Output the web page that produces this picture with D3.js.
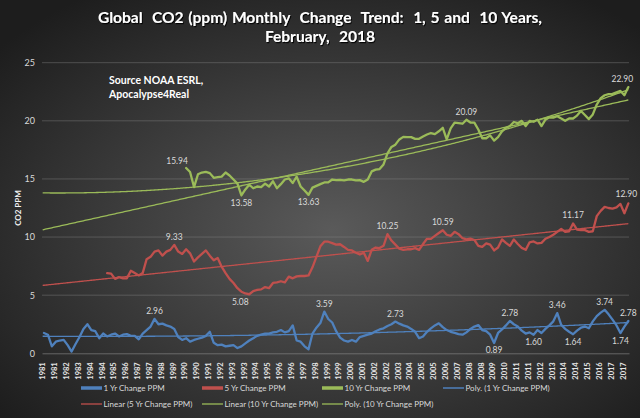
<!DOCTYPE html>
<html>
<head>
<meta charset="utf-8">
<script src="https://cdn.jsdelivr.net/npm/d3@7"></script>
<style>
    body { margin: 0; background: #000; }
    svg text { font-family: Lato, "Open Sans", sans-serif; }
</style>
</head>
<body>
<svg id="chart" width="640" height="418"></svg>
<script>
// Global CO2 monthly change, 1, 5 and 10 year windows (NOAA ESRL)
// values, one reading per quarter

const nMonths = 446;        // Jan 1981 .. Feb 2018
const sampleStep = 3;       // months between readings
const tickStep = 9;         // Excel category label interval

const tickLabels = ["1981", "1981", "1982", "1983", "1984", "1984", "1985", "1986", "1987", "1987",
    "1988", "1989", "1990", "1990", "1991", "1992", "1993", "1993", "1994", "1995",
    "1996", "1996", "1997", "1998", "1999", "1999", "2000", "2001", "2002", "2002",
    "2003", "2004", "2005", "2005", "2006", "2007", "2008", "2008", "2009", "2010",
    "2011", "2011", "2012", "2013", "2014", "2014", "2015", "2016", "2017", "2017"];
const yTicks = [0, 5, 10, 15, 20, 25];

// first month index (0 = Jan 1981) of each series
const oneYrStart = 1, fiveYrStart = 49, tenYrStart = 109;

const oneYr = [1.75, 1.6, 0.6, 1.0, 1.1, 1.15, 0.7, 0.15, 0.8, 1.4,
    2.1, 2.5, 2.0, 1.9, 1.3, 1.7, 1.45, 1.6, 1.7, 1.45,
    1.6, 1.65, 1.5, 1.5, 1.2, 1.7, 2.0, 2.3, 2.96, 2.5,
    2.55, 2.4, 2.3, 2.1, 1.4, 1.15, 1.3, 1.0, 1.15, 1.25,
    1.35, 1.5, 1.85, 0.9, 0.7, 0.75, 0.6, 0.65, 0.7, 0.45,
    0.6, 0.85, 1.1, 1.3, 1.5, 1.6, 1.7, 1.7, 1.8, 1.85,
    2.0, 1.8, 1.9, 2.4, 1.1, 1.0, 0.6, 0.35, 1.7, 2.2,
    2.6, 3.59, 2.95, 2.65, 1.9, 1.35, 1.1, 1.0, 1.15, 1.0,
    1.4, 1.5, 1.6, 1.7, 1.9, 2.05, 2.15, 2.35, 2.5, 2.73,
    2.55, 2.4, 2.3, 2.1, 1.85, 1.3, 1.45, 1.85, 2.15, 2.4,
    2.58, 2.25, 2.0, 1.85, 1.75, 1.65, 1.6, 1.8, 2.1, 2.3,
    2.43, 2.0, 1.9, 1.6, 0.89, 1.75, 2.05, 2.4, 2.78, 2.5,
    2.3, 1.95, 1.7, 1.8, 1.6, 2.0, 1.75, 2.1, 2.4, 2.75,
    3.46, 2.45, 2.1, 1.85, 1.64, 1.95, 2.2, 2.3, 2.15, 2.75,
    3.2, 3.5, 3.74, 3.35, 2.9, 2.4, 1.74, 2.3, 2.78];

const fiveYr = [6.9, 6.85, 6.4, 6.55, 6.45, 6.45, 7.1, 6.9, 6.7, 6.9,
    8.1, 8.3, 8.75, 8.85, 8.4, 8.75, 8.9, 9.33, 8.75, 8.55,
    8.95, 8.6, 7.9, 8.25, 8.55, 8.85, 8.4, 8.0, 8.2, 7.45,
    6.9, 6.4, 6.05, 5.6, 5.3, 5.15, 5.08, 5.35, 5.45, 5.5,
    5.7, 5.6, 6.05, 6.1, 6.2, 6.1, 6.6, 6.45, 6.62, 6.65,
    6.65, 6.7, 7.4, 8.3, 9.2, 9.6, 9.6, 9.48, 9.35, 9.38,
    9.15, 8.9, 8.85, 8.65, 8.5, 8.65, 7.95, 8.9, 9.1, 9.05,
    9.25, 10.25, 9.7, 9.35, 9.0, 8.9, 8.95, 8.95, 9.05, 8.9,
    9.4, 9.85, 9.85, 10.1, 10.35, 10.59, 10.2, 10.1, 10.45, 10.25,
    9.9, 9.8, 9.87, 9.75, 9.25, 9.15, 9.45, 9.35, 8.85, 9.1,
    9.8, 9.5, 9.24, 9.8, 9.4, 9.07, 8.9, 9.55, 9.62, 9.45,
    9.5, 9.85, 10.0, 10.2, 10.45, 10.7, 10.45, 10.5, 11.17, 10.65,
    10.6, 10.6, 10.45, 10.5, 11.8, 12.25, 12.6, 12.5, 12.45, 12.55,
    12.85, 12.05, 12.9];

const tenYr = [15.94, 15.6, 14.3, 15.4, 15.55, 15.6, 15.5, 15.1, 15.15, 15.2,
    15.55, 15.3, 14.95, 14.6, 13.58, 14.1, 14.5, 14.2, 14.35, 14.3,
    14.6, 14.35, 14.8, 14.2, 14.55, 14.95, 15.05, 14.65, 15.2, 14.35,
    14.0, 13.63, 14.25, 14.4, 14.55, 14.7, 14.7, 14.95, 14.9, 14.92,
    14.88, 14.95, 14.95, 14.88, 14.9, 14.75, 14.95, 15.65, 15.8, 15.85,
    16.25, 17.2, 17.75, 17.95, 18.4, 18.62, 18.6, 18.6, 18.45, 18.45,
    18.65, 18.82, 18.95, 18.85, 19.1, 19.4, 18.4, 19.35, 19.85, 19.8,
    19.75, 20.09, 19.85, 19.85, 19.25, 18.5, 18.5, 18.75, 18.3, 18.6,
    19.1, 19.4, 19.55, 19.9, 19.8, 20.0, 19.55, 20.0, 19.92, 20.1,
    19.55, 20.1, 20.3, 20.27, 20.39, 20.2, 20.0, 20.2, 20.2, 20.45,
    20.85, 20.5, 20.15, 20.55, 21.4, 21.95, 22.2, 22.3, 22.32, 22.45,
    22.57, 22.2, 22.9];

// months that carry a value label
const oneYrLabelled = [85, 214, 268, 343, 355, 373, 391, 403, 427, 439, 445];
const fiveYrLabelled = [100, 157, 262, 304, 403, 445];
const tenYrLabelled = [109, 151, 202, 322, 445];

const blue = "#4f81bd", red = "#c0504d", green = "#9bbb59";

// ---------------------------------------------------------
let svg = d3.select("#chart");

let defs = svg.append("defs");
let bg = defs.append("radialGradient").attr("id", "bg")
    .attr("cx", "52%").attr("cy", "55%").attr("r", "68%");
bg.append("stop").attr("offset", "0%").attr("stop-color", "#5a5a5a");
bg.append("stop").attr("offset", "100%").attr("stop-color", "#1d1d1d");

let shadow = defs.append("filter").attr("id", "shadow")
    .attr("x", "-5%").attr("y", "-20%").attr("width", "110%").attr("height", "150%");
shadow.append("feDropShadow").attr("dx", 1).attr("dy", 1.2)
    .attr("stdDeviation", 0.6).attr("flood-color", "#000").attr("flood-opacity", 0.9);

svg.append("rect").attr("width", 640).attr("height", 418).attr("fill", "url(#bg)");

// Scales
// ---------------------------------------------------------
let x = d3.scaleBand().domain(d3.range(nMonths)).range([42, 629]);
let xc = m => x(m) + x.bandwidth() / 2;
let y = d3.scaleLinear().domain([0, 25]).range([353.3, 62.7]);

function toPoints(values, start) {
    return values.map((v, i) => ({ m: start + i * sampleStep, v: v }));
}

let series = [
    { key: "one", pts: toPoints(oneYr, oneYrStart), color: blue, labelled: oneYrLabelled },
    { key: "five", pts: toPoints(fiveYr, fiveYrStart), color: red, labelled: fiveYrLabelled },
    { key: "ten", pts: toPoints(tenYr, tenYrStart), color: green, labelled: tenYrLabelled }
];

// least squares trendline, like Excel's Linear / Poly. options
function polyFit(pts, order) {
    let n = order + 1, s = 100;
    let A = d3.range(n).map(() => new Array(n + 1).fill(0));
    pts.forEach(p => {
        let t = p.m / s;
        for (let r = 0; r < n; r++) {
            for (let c = 0; c < n; c++) A[r][c] += Math.pow(t, r + c);
            A[r][n] += p.v * Math.pow(t, r);
        }
    });
    for (let i = 0; i < n; i++) {
        for (let k = i + 1; k < n; k++) {
            let f = A[k][i] / A[i][i];
            for (let c = i; c <= n; c++) A[k][c] -= f * A[i][c];
        }
    }
    let coef = new Array(n).fill(0);
    for (let i = n - 1; i >= 0; i--) {
        let sum = A[i][n];
        for (let c = i + 1; c < n; c++) sum -= A[i][c] * coef[c];
        coef[i] = sum / A[i][i];
    }
    return m => coef.reduce((acc, c, k) => acc + c * Math.pow(m / s, k), 0);
}

function trend(pts, order) {
    let f = polyFit(pts, order);
    return d3.range(nMonths).map(m => ({ m: m, v: f(m) }));
}

let trends = [
    { pts: trend(series[0].pts, 2), color: blue },
    { pts: trend(series[1].pts, 1), color: red },
    { pts: trend(series[2].pts, 1), color: green },
    { pts: trend(series[2].pts, 2), color: green }
];

// Grid and axes
// ---------------------------------------------------------
svg.append("g")
    .selectAll("line")
    .data(yTicks.slice(1))
    .join("line")
        .attr("x1", 42).attr("x2", 629)
        .attr("y1", d => y(d)).attr("y2", d => y(d))
        .attr("stroke", "#8c8c8c").attr("stroke-opacity", 0.5)
        .attr("stroke-width", 0.8);

let xAxis = svg.append("g")
    .attr("transform", `translate(0,${y(0)})`)
    .call(d3.axisBottom(x)
        .tickValues(tickLabels.map((d, i) => i * tickStep))
        .tickFormat((d, i) => tickLabels[i])
        .tickSize(0));
xAxis.select(".domain").attr("stroke", "#8c8c8c").attr("stroke-opacity", 0.6);
xAxis.selectAll("text")
    .attr("transform", "rotate(-90)")
    .attr("x", -9).attr("y", 0).attr("dy", "0.35em")
    .attr("text-anchor", "end")
    .attr("fill", "#e6e6e6")
    .attr("font-size", "7.5px").attr("font-weight", "bold")
    .attr("font-family", "Lato, sans-serif");

let yAxis = svg.append("g")
    .attr("transform", "translate(42,0)")
    .call(d3.axisLeft(y).tickValues(yTicks).tickSize(0).tickPadding(7));
yAxis.select(".domain").remove();
yAxis.selectAll("text")
    .attr("fill", "#d9d9d9").attr("font-size", "9px")
    .attr("font-family", "Lato, sans-serif");

svg.append("text")
    .attr("transform", `translate(21,${(y(0) + y(25)) / 2}) rotate(-90)`)
    .attr("text-anchor", "middle")
    .attr("fill", "#f2f2f2").attr("font-size", "8px").attr("font-weight", "bold")
    .text("CO2 PPM");

// Lines
// ---------------------------------------------------------
let lineGen = d3.line().x(d => xc(d.m)).y(d => y(d.v));

svg.append("g")
    .selectAll(".seriesLine")
    .data(series)
    .join("path")
        .attr("class", "seriesLine")
        .attr("d", d => lineGen(d.pts))
        .attr("fill", "none")
        .attr("stroke", d => d.color)
        .attr("stroke-width", 2.3)
        .attr("stroke-linejoin", "round")
        .attr("stroke-linecap", "round");

svg.append("g")
    .selectAll(".trendLine")
    .data(trends)
    .join("path")
        .attr("class", "trendLine")
        .attr("d", d => lineGen(d.pts))
        .attr("fill", "none")
        .attr("stroke", d => d.color)
        .attr("stroke-width", 1.3);

// Value labels
// ---------------------------------------------------------
// placement per label: [dx, baseline offset]
let above = [0, -5], below = [0, 10.5];
let placement = {
    "one-343": below, "one-373": below, "one-403": below, "one-439": below,
    "five-157": [-9, 11],
    "ten-109": [-9, -4], "ten-151": below, "ten-202": below, "ten-445": [-6, -5],
    "five-445": [-2, -6]
};

let labelData = [];
series.forEach(s => {
    s.labelled.forEach(m => {
        let p = s.pts.find(d => d.m === m);
        labelData.push({ key: s.key + "-" + m, m: m, v: p.v });
    });
});

svg.append("g")
    .selectAll("text")
    .data(labelData)
    .join("text")
        .attr("x", d => xc(d.m) + (placement[d.key] || above)[0])
        .attr("y", d => y(d.v) + (placement[d.key] || above)[1])
        .attr("text-anchor", "middle")
        .attr("fill", "#d9d9d9")
        .attr("font-size", "8.5px")
        .text(d => d.v.toFixed(2));

// Titles
// ---------------------------------------------------------
let title = svg.append("g").attr("filter", "url(#shadow)")
    .attr("fill", "#ffffff").attr("font-weight", "bold")
    .attr("text-anchor", "middle").attr("font-size", "15.5px")
    .attr("word-spacing", "1px");
title.append("text").attr("x", 320).attr("y", 23).style("white-space", "pre")
    .text("Global  CO2 (ppm) Monthly  Change  Trend:  1, 5 and  10 Years,");
title.append("text").attr("x", 320).attr("y", 42).style("white-space", "pre")
    .text("February,  2018");

let source = svg.append("g")
    .attr("fill", "#ffffff").attr("font-weight", "bold").attr("font-size", "10.5px");
source.append("text").attr("x", 109).attr("y", 84).text("Source NOAA ESRL,");
source.append("text").attr("x", 109).attr("y", 98).text("Apocalypse4Real");

// Legend
// ---------------------------------------------------------
let legendItems = [
    { label: "1 Yr Change PPM", color: blue, w: 3.5, x: 81, row: 0 },
    { label: "5 Yr Change PPM", color: red, w: 3.5, x: 202, row: 0 },
    { label: "10 Yr Change PPM", color: green, w: 3.5, x: 322, row: 0 },
    { label: "Poly. (1 Yr Change PPM)", color: blue, w: 1.5, x: 443, row: 0 },
    { label: "Linear (5 Yr Change PPM)", color: red, w: 1.3, x: 81, row: 1 },
    { label: "Linear (10 Yr Change PPM)", color: green, w: 1.3, x: 202, row: 1 },
    { label: "Poly. (10 Yr Change PPM)", color: green, w: 1.3, x: 322, row: 1 }
];
let rowY = [388, 404];

let legend = svg.append("g")
    .selectAll("g")
    .data(legendItems)
    .join("g")
        .attr("transform", d => `translate(${d.x},${rowY[d.row]})`);
legend.append("line")
    .attr("x1", 0).attr("x2", 21)
    .attr("stroke", d => d.color).attr("stroke-width", d => d.w);
legend.append("text")
    .attr("x", 22.5).attr("dy", "0.35em")
    .attr("fill", "#d9d9d9").attr("font-size", "8px")
    .text(d => d.label);
</script>
</body>
</html>
